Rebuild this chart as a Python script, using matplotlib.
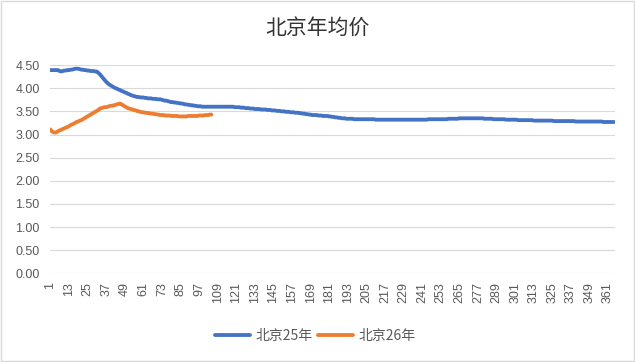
import matplotlib
matplotlib.use("Agg")
import matplotlib.pyplot as plt
from matplotlib.patches import Rectangle
import numpy as np

plt.rcParams["font.family"] = ["Liberation Sans", "Noto Sans CJK SC", "DejaVu Sans"]

TITLE = "北京年均价"
SERIES_25_NAME = "北京25年"
SERIES_26_NAME = "北京26年"

# daily average price, 2025 (365 days)
beijing_25 = [
    4.39, 4.39, 4.39, 4.39, 4.39, 4.39, 4.37, 4.36, 4.37, 4.38,
    4.38, 4.39, 4.39, 4.40, 4.40, 4.41, 4.42, 4.42, 4.42, 4.41,
    4.40, 4.40, 4.39, 4.39, 4.38, 4.38, 4.37, 4.37, 4.37, 4.36,
    4.36, 4.33, 4.30, 4.26, 4.22, 4.18, 4.14, 4.11, 4.08, 4.06,
    4.04, 4.02, 4.00, 3.99, 3.97, 3.96, 3.94, 3.93, 3.91, 3.90,
    3.88, 3.87, 3.85, 3.84, 3.83, 3.82, 3.81, 3.81, 3.80, 3.80,
    3.80, 3.79, 3.79, 3.78, 3.78, 3.78, 3.77, 3.77, 3.77, 3.76,
    3.76, 3.76, 3.75, 3.74, 3.73, 3.73, 3.72, 3.71, 3.70, 3.70,
    3.69, 3.69, 3.68, 3.68, 3.67, 3.67, 3.66, 3.65, 3.65, 3.64,
    3.64, 3.63, 3.63, 3.62, 3.62, 3.61, 3.61, 3.61, 3.60, 3.60,
    3.60, 3.60, 3.60, 3.60, 3.60, 3.60, 3.60, 3.60, 3.60, 3.60,
    3.60, 3.60, 3.60, 3.60, 3.60, 3.60, 3.60, 3.60, 3.60, 3.59,
    3.59, 3.59, 3.59, 3.58, 3.58, 3.58, 3.57, 3.57, 3.57, 3.56,
    3.56, 3.56, 3.55, 3.55, 3.55, 3.55, 3.54, 3.54, 3.54, 3.54,
    3.53, 3.53, 3.53, 3.52, 3.52, 3.52, 3.51, 3.51, 3.51, 3.50,
    3.50, 3.50, 3.49, 3.49, 3.49, 3.48, 3.48, 3.48, 3.47, 3.47,
    3.47, 3.46, 3.46, 3.45, 3.45, 3.44, 3.44, 3.43, 3.43, 3.42,
    3.42, 3.42, 3.42, 3.41, 3.41, 3.41, 3.40, 3.40, 3.40, 3.40,
    3.39, 3.39, 3.38, 3.38, 3.37, 3.37, 3.36, 3.36, 3.35, 3.35,
    3.35, 3.34, 3.34, 3.34, 3.34, 3.34, 3.33, 3.33, 3.33, 3.33,
    3.33, 3.33, 3.33, 3.33, 3.33, 3.33, 3.33, 3.33, 3.33, 3.33,
    3.32, 3.32, 3.32, 3.32, 3.32, 3.32, 3.32, 3.32, 3.32, 3.32,
    3.32, 3.32, 3.32, 3.32, 3.32, 3.32, 3.32, 3.32, 3.32, 3.32,
    3.32, 3.32, 3.32, 3.32, 3.32, 3.32, 3.32, 3.32, 3.32, 3.32,
    3.32, 3.32, 3.32, 3.32, 3.33, 3.33, 3.33, 3.33, 3.33, 3.33,
    3.33, 3.33, 3.33, 3.33, 3.33, 3.33, 3.33, 3.34, 3.34, 3.34,
    3.34, 3.34, 3.34, 3.34, 3.35, 3.35, 3.35, 3.35, 3.35, 3.35,
    3.35, 3.35, 3.35, 3.35, 3.35, 3.35, 3.35, 3.35, 3.35, 3.35,
    3.34, 3.34, 3.34, 3.34, 3.34, 3.34, 3.33, 3.33, 3.33, 3.33,
    3.33, 3.33, 3.33, 3.33, 3.32, 3.32, 3.32, 3.32, 3.32, 3.32,
    3.32, 3.32, 3.31, 3.31, 3.31, 3.31, 3.31, 3.31, 3.31, 3.31,
    3.31, 3.31, 3.30, 3.30, 3.30, 3.30, 3.30, 3.30, 3.30, 3.30,
    3.30, 3.30, 3.30, 3.30, 3.30, 3.29, 3.29, 3.29, 3.29, 3.29,
    3.29, 3.29, 3.29, 3.29, 3.29, 3.29, 3.29, 3.29, 3.29, 3.28,
    3.28, 3.28, 3.28, 3.28, 3.28, 3.28, 3.28, 3.28, 3.28, 3.28,
    3.28, 3.28, 3.28, 3.28, 3.28, 3.28, 3.28, 3.27, 3.27, 3.27,
    3.27, 3.27, 3.27, 3.27, 3.27,
]

# daily average price, 2026 (so far)
beijing_26 = [
    3.11, 3.07, 3.05, 3.04, 3.05, 3.07, 3.09, 3.10, 3.12, 3.13,
    3.15, 3.16, 3.18, 3.20, 3.22, 3.23, 3.25, 3.27, 3.28, 3.30,
    3.31, 3.33, 3.35, 3.37, 3.39, 3.41, 3.43, 3.45, 3.47, 3.49,
    3.51, 3.53, 3.56, 3.57, 3.58, 3.59, 3.59, 3.60, 3.61, 3.62,
    3.62, 3.63, 3.64, 3.65, 3.66, 3.67, 3.65, 3.63, 3.61, 3.59,
    3.57, 3.56, 3.55, 3.54, 3.53, 3.52, 3.51, 3.50, 3.49, 3.48,
    3.48, 3.47, 3.47, 3.46, 3.46, 3.45, 3.45, 3.44, 3.44, 3.43,
    3.43, 3.42, 3.42, 3.42, 3.41, 3.41, 3.41, 3.41, 3.40, 3.40,
    3.40, 3.40, 3.40, 3.39, 3.39, 3.39, 3.39, 3.39, 3.39, 3.40,
    3.40, 3.40, 3.40, 3.40, 3.40, 3.40, 3.41, 3.41, 3.41, 3.41,
    3.42, 3.42, 3.42, 3.43, 3.43,
]

y_ticks = [0.0, 0.5, 1.0, 1.5, 2.0, 2.5, 3.0, 3.5, 4.0, 4.5]
label_step = 12

BLUE = "#4472C4"
ORANGE = "#ED7D31"
GRID = "#D9D9D9"
TEXT = "#595959"


def main():
    fig = plt.figure(figsize=(6.35, 3.62), dpi=100)
    ax = fig.add_axes([0.078, 0.2445, 0.8905, 0.5759])

    days_25 = np.arange(1, len(beijing_25) + 1)
    days_26 = np.arange(1, len(beijing_26) + 1)
    ax.plot(days_25, beijing_25, color=BLUE, lw=2.75, solid_capstyle="round",
            label=SERIES_25_NAME)
    ax.plot(days_26, beijing_26, color=ORANGE, lw=2.75, solid_capstyle="round",
            label=SERIES_26_NAME)

    ax.set_xlim(0.5, len(beijing_25) + 0.5)
    ax.set_ylim(y_ticks[0], y_ticks[-1])
    ax.set_yticks(y_ticks)
    ax.set_yticklabels([f"{v:.2f}" for v in y_ticks])
    xt = list(range(1, len(beijing_25) + 1, label_step))
    ax.set_xticks(xt)
    ax.set_xticklabels([str(v) for v in xt], rotation=90)

    ax.grid(axis="y", color=GRID, lw=0.8)
    ax.set_axisbelow(True)
    for s in ax.spines.values():
        s.set_visible(False)
    ax.tick_params(length=0, labelsize=9, labelcolor=TEXT)
    ax.tick_params(axis="y", pad=7)
    ax.tick_params(axis="x", pad=6)

    fig.text(0.5, 0.922, TITLE, ha="center", va="center", fontsize=15,
             color="#333333", family=["Noto Sans CJK SC"], weight="medium")

    leg = fig.legend(loc="center", bbox_to_anchor=(0.497, 0.072), ncol=2, frameon=False,
                     prop={"family": ["Noto Sans CJK SC"], "size": 10},
                     handlelength=2.5, handletextpad=0.4, columnspacing=0.4)
    for t in leg.get_texts():
        t.set_color(TEXT)

    fig.add_artist(Rectangle((0.002, 0.003), 0.996, 0.994, transform=fig.transFigure,
                             fill=False, edgecolor="#D9D9D9", lw=1))

    fig.savefig("out.png", dpi=100)


if __name__ == "__main__":
    main()
